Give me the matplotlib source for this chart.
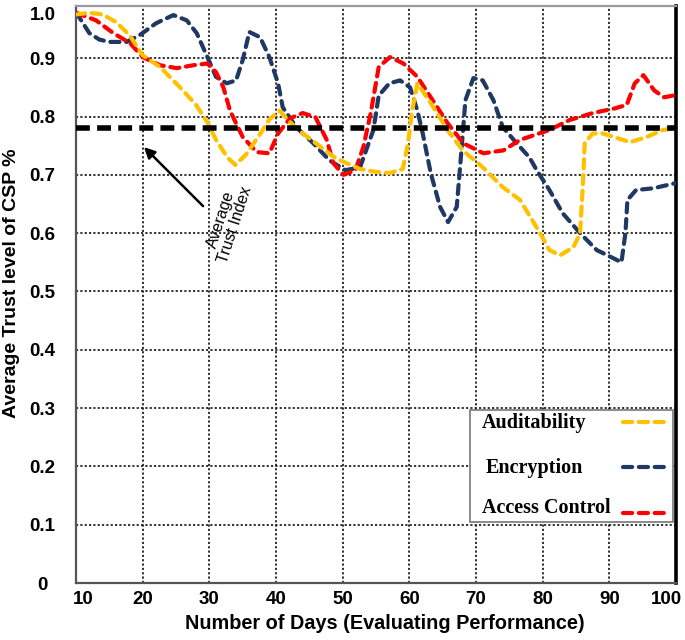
import numpy as np
import matplotlib
matplotlib.use("Agg")
import matplotlib.pyplot as plt
from matplotlib.lines import Line2D
from matplotlib.patches import Rectangle
from matplotlib.transforms import ScaledTranslation

# values
aud_days = [10, 12, 14, 16, 18, 20, 22.6, 25.6, 28, 29.7, 31, 32.7, 33.9, 35.5,
            37.6, 39, 40.5, 43, 46, 49, 52.6, 55, 57, 59, 59.8, 60.4, 61.2, 63.2,
            65.7, 68, 71, 74, 76.6, 79.6, 81, 82.6, 84.6, 85.6, 86, 86.3, 87.5,
            89, 91.2, 93.1, 95.6, 98, 100]
aud_vals = [0.975, 0.978, 0.975, 0.962, 0.94, 0.905, 0.885, 0.85, 0.82, 0.79,
            0.76, 0.73, 0.717, 0.735, 0.77, 0.795, 0.81, 0.78, 0.754, 0.728, 0.71,
            0.705, 0.703, 0.71, 0.754, 0.81, 0.857, 0.823, 0.777, 0.742, 0.713,
            0.679, 0.657, 0.6, 0.571, 0.562, 0.576, 0.6, 0.679, 0.755, 0.771,
            0.771, 0.763, 0.756, 0.765, 0.777, 0.78]

enc_days = [10, 10.6, 12, 13.5, 15, 17.6, 19.6, 22, 24.6, 26.6, 28.1, 29.7, 31,
            32.6, 34, 35, 36, 37.6, 39, 40.3, 41, 43, 45.6, 48, 50.4, 52.6, 54.6,
            55.4, 57, 58.6, 60.1, 61.2, 62, 63.2, 64.6, 65.8, 67.1, 67.6, 68.4,
            69.6, 71, 72.6, 74, 76.1, 78, 79.1, 81, 83, 85.6, 88.1, 90.6, 91.8,
            92.4, 92.7, 94, 96.6, 100]
enc_vals = [0.978, 0.968, 0.943, 0.932, 0.928, 0.928, 0.94, 0.96, 0.974, 0.965,
            0.943, 0.902, 0.868, 0.857, 0.862, 0.897, 0.945, 0.936, 0.902, 0.857,
            0.816, 0.782, 0.754, 0.725, 0.708, 0.713, 0.777, 0.836, 0.857, 0.862,
            0.85, 0.81, 0.771, 0.703, 0.645, 0.619, 0.645, 0.713, 0.828, 0.866,
            0.862, 0.828, 0.782, 0.754, 0.73, 0.708, 0.674, 0.634, 0.6, 0.571,
            0.557, 0.55, 0.6, 0.657, 0.674, 0.677, 0.686]

acc_days = [10, 13, 15.6, 18.1, 20, 22.6, 25.1, 27.6, 29.7, 31, 32.1, 33.1, 35,
            37.1, 39, 40.3, 42.1, 44, 45.9, 47.6, 48.6, 50.1, 51.9, 53.1, 54.2,
            55.4, 57.1, 59.1, 61.2, 63.2, 65.7, 68.1, 71.1, 74.1, 76.6, 81, 84,
            87.5, 90.8, 92.6, 93.8, 95.1, 96.7, 98.2, 100]
acc_vals = [0.978, 0.965, 0.943, 0.926, 0.902, 0.888, 0.883, 0.888, 0.891, 0.876,
            0.85, 0.81, 0.765, 0.739, 0.737, 0.771, 0.797, 0.806, 0.799, 0.76,
            0.72, 0.7, 0.708, 0.748, 0.806, 0.885, 0.902, 0.891, 0.868, 0.833,
            0.789, 0.754, 0.737, 0.742, 0.76, 0.777, 0.794, 0.806, 0.814, 0.82,
            0.857, 0.871, 0.845, 0.833, 0.837]

avg_trust = 0.78

x_ticks = [10, 20, 30, 40, 50, 60, 70, 80, 90, 100]
y_ticks = [0, 0.1, 0.2, 0.3, 0.4, 0.5, 0.6, 0.7, 0.8, 0.9]
y_tick_labels = ["0", "0.1", "0.2", "0.3", "0.4", "0.5", "0.6", "0.7", "0.8", "0.9"]

series_names = ["Auditability", "Encryption", "Access Control"]
colors = {"Auditability": "#FFC000", "Encryption": "#1F3864",
          "Access Control": "#FF0000"}

SANS = ["Liberation Sans", "DejaVu Sans"]
SERIF = ["Liberation Serif", "DejaVu Serif"]
DASH = (0, (2.2, 1.6))


def draw_legend(ax):
    # hand-made legend: text on the left, dashed sample on the right
    ax.add_patch(Rectangle((0.657, 0.106), 0.338, 0.194, transform=ax.transAxes,
                           facecolor="white", edgecolor="#777777", lw=1.2,
                           zorder=8))
    text_x = [0.677, 0.682, 0.677]
    text_y = [0.277, 0.199, 0.130]
    line_y = [0.279, 0.201, 0.122]
    for name, tx, ty, ly in zip(series_names, text_x, text_y, line_y):
        ax.text(tx, ty, name, transform=ax.transAxes, ha="left", va="center",
                family=SERIF, fontweight="bold", fontsize=14.5, zorder=9)
        ax.add_line(Line2D([0.912, 0.99], [ly, ly], transform=ax.transAxes,
                           color=colors[name], lw=3, linestyle=DASH,
                           dash_capstyle="round", zorder=9))


def main():
    fig = plt.figure(figsize=(6.85, 6.4), dpi=100)
    ax = fig.add_axes([0.111, 0.089, 0.876, 0.902])

    ax.plot(enc_days, enc_vals, color=colors["Encryption"], lw=3,
            linestyle=DASH, dash_capstyle="round", zorder=3)
    ax.plot(acc_days, acc_vals, color=colors["Access Control"], lw=3,
            linestyle=DASH, dash_capstyle="round", zorder=4)
    ax.plot(aud_days, aud_vals, color=colors["Auditability"], lw=3,
            linestyle=DASH, dash_capstyle="round", zorder=5)
    ax.axhline(avg_trust, color="black", lw=4, linestyle=(0, (2.5, 1.3)),
               zorder=6)

    ax.set_xlim(10, 100)
    ax.set_ylim(0, 0.99)
    ax.set_xticks(x_ticks)
    ax.set_yticks(y_ticks + [0.977])
    ax.set_yticklabels(y_tick_labels + ["1.0"])
    ax.grid(True, color="#222222", lw=1.3, linestyle=(0, (1.2, 1.2)), zorder=1)
    ax.get_ygridlines()[-1].set_visible(False)
    ax.get_ygridlines()[0].set_visible(False)
    ax.get_xgridlines()[0].set_visible(False)
    ax.get_xgridlines()[-1].set_visible(False)

    ax.tick_params(length=0)
    ax.tick_params(axis="y", pad=24)
    ax.tick_params(axis="x", pad=6)
    for lab in ax.get_yticklabels():
        lab.set_ha("center")
        lab.set_family(SANS)
        lab.set_fontweight("bold")
        lab.set_fontsize(13.5)
    for lab in ax.get_xticklabels():
        lab.set_family(SANS)
        lab.set_fontweight("bold")
        lab.set_fontsize(13.5)
    first = ax.get_xticklabels()[0]
    first.set_ha("left")
    first.set_transform(first.get_transform()
                        + ScaledTranslation(-2 / 72, 0, fig.dpi_scale_trans))
    last = ax.get_xticklabels()[-1]
    last.set_ha("right")
    last.set_transform(last.get_transform()
                       + ScaledTranslation(4 / 72, 0, fig.dpi_scale_trans))

    ax.spines["left"].set_color("#555555")
    ax.spines["bottom"].set_color("#555555")
    ax.spines["top"].set_color("#999999")
    ax.spines["right"].set_color("black")
    for side in ["left", "bottom", "top"]:
        ax.spines[side].set_linewidth(1.6)
    ax.spines["right"].set_linewidth(2.6)

    ax.set_xlabel("Number of Days (Evaluating Performance)", family=SANS,
                  fontweight="bold", fontsize=14.3)
    ax.xaxis.set_label_coords(0.515, -0.053)
    ax.set_ylabel("Average Trust level of CSP %", family=SANS,
                  fontweight="bold", fontsize=14)
    ax.yaxis.set_label_coords(-0.093, 0.52)

    ax.annotate("", xy=(19.9, 0.751), xytext=(29.35, 0.643),
                arrowprops=dict(arrowstyle="-|>", color="black", lw=1.8,
                                mutation_scale=16), zorder=7)
    ax.text(32.8, 0.619, "Average\nTrust Index", rotation=72, ha="center",
            va="center", family=SANS, fontsize=11.5, zorder=7,
            linespacing=1.0, rotation_mode="anchor")

    draw_legend(ax)

    fig.savefig("out.png", dpi=100)


if __name__ == "__main__":
    main()
